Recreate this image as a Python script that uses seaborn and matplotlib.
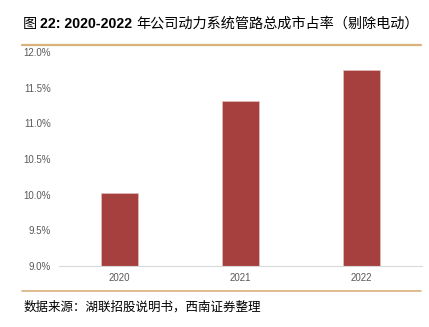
import matplotlib
matplotlib.use("Agg")
import matplotlib.pyplot as plt
import seaborn as sns
import pandas as pd
from matplotlib.lines import Line2D
from matplotlib.ticker import FuncFormatter

years = ["2020", "2021", "2022"]
share = [10.02, 11.31, 11.75]
yticks = [9.0, 9.5, 10.0, 10.5, 11.0, 11.5, 12.0]

sns.set_theme(style="white")
plt.rcParams['font.family'] = ['Noto Sans CJK SC', 'DejaVu Sans']

df = pd.DataFrame({"year": years, "share": share})

fig = plt.figure(figsize=(4.29, 3.27), dpi=100)
ax = fig.add_axes([59/429, 1-266/327, (422-59)/429, (266-52)/327])
sns.barplot(data=df, x="year", y="share", color="#A6403E", width=0.31,
            ax=ax, saturation=1, edgecolor="#e9c9c5", linewidth=0.4)
ax.set_ylim(9.0, 12.0)
ax.set_yticks(yticks)
ax.yaxis.set_major_formatter(FuncFormatter(lambda v, p: f"{v:.1f}%"))
ax.set_xlim(-0.5, 2.5)
ax.set_xlabel("")
ax.set_ylabel("")
for s in ["top", "right", "left"]:
    ax.spines[s].set_visible(False)
ax.spines["bottom"].set_color("#D9D9D9")
ax.spines["bottom"].set_linewidth(0.8)
ax.tick_params(axis="both", length=0, labelsize=7, labelcolor="#595959", pad=5)
ax.tick_params(axis="y", pad=6)
for lab in ax.get_yticklabels() + ax.get_xticklabels():
    lab.set_family(["Liberation Sans", "DejaVu Sans"])

# title composed of pieces
renderer = fig.canvas.get_renderer()
pieces = [("图 ", "medium", ["Noto Sans CJK SC"], 10.2),
          ("22: 2020-2022 ", "bold", ["Liberation Sans"], 10.2),
          ("年公司动力系统管路总成市占率（剔除电动）", "medium", ["Noto Sans CJK SC"], 10.2)]
x0 = 23
for txt, w, fam, fs in pieces:
    t = fig.text(x0/429, 1-24/327, txt, fontsize=fs, fontweight=w, family=fam,
                 va="center", ha="left", color="#000000")
    bb = t.get_window_extent(renderer)
    x0 += bb.width

fig.add_artist(Line2D([22/429, 421/429], [1-45/327, 1-45/327], color="#D8B27A", lw=1.6,
                      transform=fig.transFigure))
fig.add_artist(Line2D([22/429, 421/429], [1-291/327, 1-291/327], color="#D8B27A", lw=1.2,
                      transform=fig.transFigure))
fig.text(24/429, 1-307/327, "数据来源：湖联招股说明书，西南证券整理",
         fontsize=9, style="italic", va="center", ha="left", color="#000000")

fig.savefig("out.png", dpi=100)
